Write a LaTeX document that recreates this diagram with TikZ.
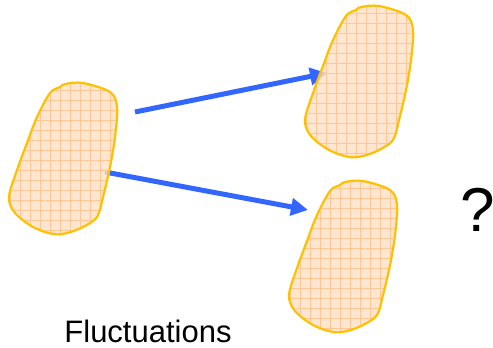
\documentclass[tikz,border=0pt]{standalone}
\usepackage{fontspec}
\setmainfont{Liberation Sans}
\usetikzlibrary{arrows.meta}
\definecolor{blobfill}{RGB}{255,224,196}
\definecolor{blobgrid}{RGB}{255,196,145}
\definecolor{blobedge}{RGB}{255,192,0}
\definecolor{arrowblue}{RGB}{51,102,255}
\tikzset{
  flow/.style={draw=arrowblue, line width=5pt,
    -{Triangle[length=17pt,width=17pt]}},
  label/.style={inner sep=0pt, anchor=center},
}
% outline of one patch, in local coordinates
\def\blobpath{plot[smooth cycle, tension=0.55] coordinates {
  (65,84) (83,83) (110,92) (117,107) (115,137) (110,167) (103,197)
  (97,217) (83,227) (67,233) (53,234) (33,227) (15,213) (9,197)
  (17,170) (27,143) (37,117) (50,93) (60,87)}}
\newcommand{\drawblob}[1]{%
  \begin{scope}[shift={#1}]
    \begin{scope}
      \clip \blobpath;
      \fill[blobfill, fill opacity=0.8] (0,75) rectangle (125,240);
      \draw[blobgrid, line width=0.9pt, opacity=0.9, step=10pt]
        (0,75) grid (125,240);
    \end{scope}
    \draw[blobedge, line width=2.2pt] \blobpath;
  \end{scope}}
\begin{document}
\begin{tikzpicture}[x=1pt, y=-1pt]
  \useasboundingbox (0,0) rectangle (493,348);
  % arrow end points
  \coordinate (a1s) at (135,112);
  \coordinate (a1e) at (327,73);
  \coordinate (a2s) at (105,172);
  \coordinate (a2e) at (308,210);
  \draw[flow] (a1s) -- (a1e);
  \draw[flow] (a2s) -- (a2e);
  % the three patches
  \drawblob{(0,0)}
  \drawblob{(296,-77)}
  \drawblob{(280,98)}
  % labels
  \node[label, font=\fontsize{31}{31}\selectfont] (fluct) at (148,331) {Fluctuations};
  \node[label, font=\fontsize{62}{62}\selectfont] (quest) at (478,210) {?};
\end{tikzpicture}
\end{document}
